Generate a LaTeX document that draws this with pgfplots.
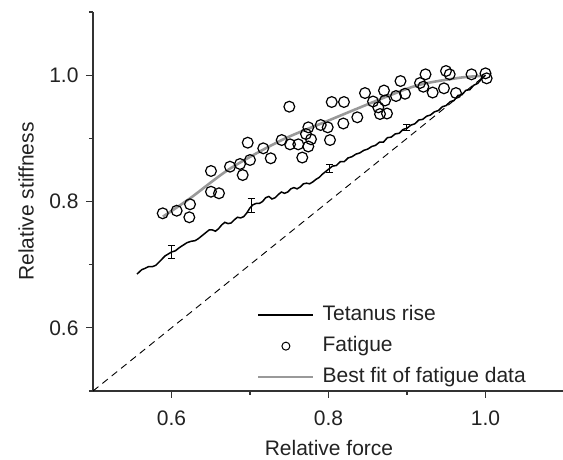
\documentclass[border=0pt]{standalone}
\usepackage{pgfplots}
\pgfplotsset{compat=1.18}
\usepackage{fontspec}
\setmainfont{Liberation Sans}
\definecolor{axisgray}{HTML}{333333}
\definecolor{fitgray}{HTML}{999999}
\definecolor{txt}{HTML}{222222}
\begin{document}
\begin{tikzpicture}
\useasboundingbox (-93pt,-69pt) rectangle (470pt,391pt);
\begin{axis}[
  at={(0pt,0pt)}, anchor=south west,
  scale only axis, width=471pt, height=379pt,
  xmin=0.5, xmax=1.1, ymin=0.5, ymax=1.1,
  axis x line=bottom, axis y line=left,
  axis line style={-, axisgray, line width=1.2pt},
  xtick={0.6,0.8,1.0}, minor xtick={0.7,0.9},
  ytick={0.6,0.8,1.0}, minor ytick={0.5,0.7,0.9,1.1},
  tick align=outside,
  major tick length=7pt, minor tick length=4pt,
  every tick/.style={axisgray, line width=1.1pt},
  /pgf/number format/assume math mode=true,
  /pgf/number format/fixed, /pgf/number format/fixed zerofill, /pgf/number format/precision=1,
  tick label style={font=\fontsize{21}{25}\selectfont, text=txt},
  xticklabel style={yshift=-9pt},
  yticklabel style={xshift=-4pt},
  label style={font=\fontsize{21}{25}\selectfont, text=txt},
  xlabel={Relative force},
  ylabel={Relative stiffness},
  xlabel style={at={(axis description cs:0.501,-0.150)}, anchor=center},
  ylabel style={at={(axis description cs:-0.142,0.5)}, anchor=center, rotate=0},
  legend style={at={(axis description cs:0.348,0.231)}, anchor=north west, draw=none, fill=none,
    font=\fontsize{21}{25}\selectfont, text=txt, inner sep=0pt, row sep=8pt, legend cell align=left,
    nodes={inner sep=2pt, text height=15pt, text depth=4pt}},
  clip=false,
]
\addlegendimage{legend image code/.code={\draw[black, line width=1.3pt] (0pt,0pt) -- (55pt,0pt); \path (62pt,0pt);}}
\addlegendentry{Tetanus rise}
\addlegendimage{legend image code/.code={\draw[black, line width=1pt] (27.5pt,0pt) circle (4pt); \path (0pt,0pt) (62pt,0pt);}}
\addlegendentry{Fatigue}
\addlegendimage{legend image code/.code={\draw[fitgray, line width=2.6pt] (0pt,0pt) -- (55pt,0pt); \path (62pt,0pt);}}
\addlegendentry{Best fit of fatigue data}

% identity
\addplot[forget plot, black, line width=0.9pt, dash pattern=on 7pt off 5pt] coordinates {(0.5,0.5) (1.0,1.0)};

% best fit of fatigue data
\addplot[forget plot, fitgray, line width=2.6pt, smooth] coordinates {
(0.589,0.776) (0.6236,0.805) (0.6745,0.852) (0.74,0.897) (0.7977,0.927)
(0.874,0.966) (0.9166,0.985) (0.9675,0.996) (0.998,0.999)};

% tetanus rise
\addplot[forget plot, black, line width=1.5pt] table {
x y
0.556 0.685
0.562 0.692
0.566 0.694
0.571 0.697
0.576 0.697
0.580 0.699
0.584 0.704
0.588 0.709
0.592 0.714
0.596 0.717
0.600 0.720
0.605 0.722
0.610 0.727
0.615 0.731
0.620 0.735
0.625 0.737
0.630 0.738
0.634 0.741
0.638 0.745
0.643 0.750
0.648 0.755
0.652 0.755
0.656 0.753
0.660 0.757
0.664 0.763
0.668 0.767
0.672 0.765
0.676 0.766
0.680 0.771
0.684 0.775
0.688 0.774
0.692 0.776
0.696 0.782
0.700 0.790
0.704 0.795
0.708 0.797
0.712 0.797
0.716 0.800
0.720 0.806
0.724 0.808
0.728 0.804
0.732 0.806
0.736 0.811
0.740 0.815
0.744 0.813
0.748 0.815
0.752 0.820
0.756 0.822
0.760 0.820
0.764 0.823
0.768 0.828
0.772 0.829
0.776 0.828
0.780 0.831
0.784 0.835
0.788 0.838
0.792 0.843
0.796 0.847
0.800 0.851
0.805 0.856
0.810 0.857
0.815 0.863
0.820 0.863
0.825 0.869
0.830 0.871
0.835 0.875
0.840 0.877
0.845 0.881
0.850 0.883
0.855 0.887
0.860 0.889
0.865 0.894
0.870 0.894
0.875 0.901
0.880 0.902
0.885 0.907
0.890 0.908
0.895 0.914
0.900 0.916
0.905 0.921
0.910 0.923
0.915 0.929
0.920 0.930
0.925 0.935
0.930 0.937
0.935 0.942
0.940 0.944
0.945 0.950
0.950 0.952
0.955 0.958
0.960 0.960
0.965 0.968
0.970 0.969
0.975 0.976
0.980 0.977
0.985 0.984
0.990 0.987
0.995 0.994
1.000 1.000
};

% error bars on tetanus rise
\addplot[forget plot, black, line width=1pt, draw=none, mark=none,
  error bars/.cd, y dir=both, y explicit,
  error bar style={black, line width=1pt},
  error mark options={black, rotate=90, mark size=3.5pt, line width=1pt}]
coordinates {
(0.600,0.7205) +- (0,0.0105)
(0.7015,0.7930) +- (0,0.0110)
(0.801,0.8525) +- (0,0.0060)
(0.8995,0.9174) +- (0,0.0050)
};

% fatigue data
\addplot[forget plot, only marks, mark=o, mark size=5.4pt, mark options={black, line width=1.2pt}] table {
x y
0.5888 0.7813
0.6066 0.7854
0.6236 0.7956
0.6227 0.7750
0.6503 0.8483
0.6503 0.8155
0.6605 0.8130
0.6745 0.8551
0.6873 0.8594
0.6907 0.8419
0.7000 0.8657
0.6971 0.8931
0.7169 0.8842
0.7264 0.8684
0.7501 0.9501
0.7404 0.8973
0.7510 0.8905
0.7615 0.8905
0.7666 0.8696
0.7743 0.8871
0.7713 0.9068
0.7777 0.8985
0.7743 0.9174
0.7901 0.9211
0.7990 0.9174
0.8019 0.8973
0.8041 0.9575
0.8197 0.9575
0.8189 0.9235
0.8367 0.9333
0.8465 0.9717
0.8567 0.9583
0.8634 0.9491
0.8656 0.9385
0.8745 0.9393
0.8707 0.9757
0.8720 0.9599
0.8860 0.9670
0.8975 0.9706
0.8917 0.9907
0.9166 0.9876
0.9236 1.0013
0.9208 0.9817
0.9327 0.9725
0.9471 0.9792
0.9497 1.0066
0.9544 1.0013
0.9624 0.9717
0.9822 1.0013
1.0000 1.0029
1.0015 0.9950
};
\end{axis}
\end{tikzpicture}
\end{document}
